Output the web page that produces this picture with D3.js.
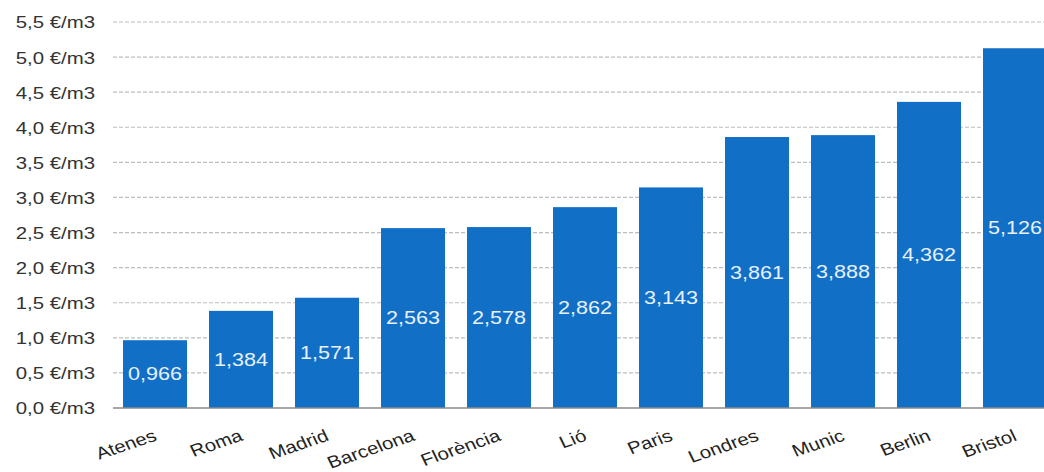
<!DOCTYPE html>
<html>
<head>
<meta charset="utf-8">
<script src="https://cdn.jsdelivr.net/npm/d3@7"></script>
<style>
  html, body { margin: 0; padding: 0; background: #fff; }
  svg { display: block; font-family: "Liberation Sans", Arial, sans-serif; }
</style>
</head>
<body>
<svg id="chart" width="1044" height="472"></svg>
<script>
// Water price per cubic metre by city
const cities = ["Atenes", "Roma", "Madrid", "Barcelona", "Florència", "Lió", "Paris", "Londres", "Munic", "Berlin", "Bristol"];
const prices = [0.966, 1.384, 1.571, 2.563, 2.578, 2.862, 3.143, 3.861, 3.888, 4.362, 5.126];
const yTicks = [0, 0.5, 1.0, 1.5, 2.0, 2.5, 3.0, 3.5, 4.0, 4.5, 5.0, 5.5];

const svg = d3.select("#chart");
const fmtTick = v => d3.format(".1f")(v).replace(".", ",") + " €/m3";
const fmtVal = v => d3.format(".3f")(v).replace(".", ",");
const WIDE = "scale(1.2,1)"; // text is drawn slightly widened

const x = d3.scaleBand().domain(cities).range([112, 1058]).paddingInner(0.256).paddingOuter(0.128);
const y = d3.scaleLinear().domain([0, 5.5]).range([408, 22]);

// dashed grid
svg.append("g")
  .selectAll("line")
  .data(yTicks.filter(d => d > 0))
  .join("line")
  .attr("x1", 113).attr("x2", 1044)
  .attr("y1", d => y(d)).attr("y2", d => y(d))
  .attr("stroke", "#bdbdbd")
  .attr("stroke-width", 1.2)
  .attr("stroke-dasharray", "4,2");

// y-axis labels
const yAxis = d3.axisLeft(y).tickValues(yTicks).tickFormat(fmtTick).tickSize(0).tickPadding(0);
const gy = svg.append("g").attr("transform", "translate(95,0)").call(yAxis);
gy.select(".domain").remove();
gy.selectAll("text")
  .attr("fill", "#333")
  .attr("font-size", 17)
  .attr("font-family", "Liberation Sans, Arial, sans-serif")
  .attr("x", 0)
  .attr("dy", "0.35em")
  .attr("transform", WIDE);

// bars
svg.append("g")
  .selectAll("rect")
  .data(prices)
  .join("rect")
  .attr("x", (d, i) => x(cities[i]))
  .attr("width", x.bandwidth())
  .attr("y", d => y(d))
  .attr("height", d => y(0) - y(d))
  .attr("fill", "#126fc6");

// value labels inside bars
svg.append("g")
  .selectAll("g")
  .data(prices)
  .join("g")
  .attr("transform", (d, i) => `translate(${x(cities[i]) + x.bandwidth() / 2},${(y(d) + y(0)) / 2})`)
  .append("text")
  .attr("dy", "0.35em")
  .attr("text-anchor", "middle")
  .attr("fill", "#e8f1fb")
  .attr("font-size", 18)
  .attr("transform", WIDE)
  .text(fmtVal);

// baseline
svg.append("line")
  .attr("x1", 113).attr("x2", 1044)
  .attr("y1", y(0)).attr("y2", y(0))
  .attr("stroke", "#8a8a8a")
  .attr("stroke-width", 1.5);

// category labels
const xAxis = d3.axisBottom(x).tickSize(0).tickPadding(0);
const gx = svg.append("g").attr("transform", `translate(0,${y(0)})`).call(xAxis);
gx.select(".domain").remove();
gx.selectAll("text")
  .attr("fill", "#222")
  .attr("font-size", 17)
  .attr("font-family", "Liberation Sans, Arial, sans-serif")
  .attr("text-anchor", "end")
  .attr("transform", "translate(3,32) scale(1.2,1) rotate(-22)")
  .attr("x", 0).attr("y", 0).attr("dy", 0);
</script>
</body>
</html>
